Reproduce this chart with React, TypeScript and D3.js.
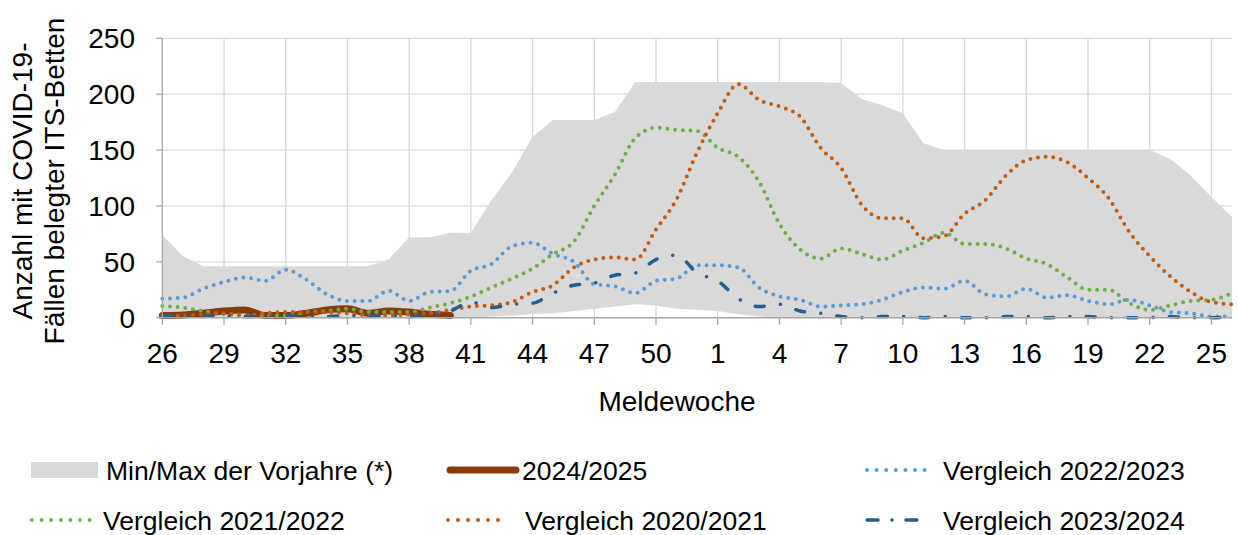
import React from 'react';
import * as d3 from 'd3';

// Meldewochen (KW 26 .. KW 26 of following year)
const weeks: number[] = [
  26, 27, 28, 29, 30, 31, 32, 33, 34, 35, 36, 37, 38, 39, 40, 41, 42, 43, 44, 45, 46, 47, 48, 49, 50, 51, 52,
  1, 2, 3, 4, 5, 6, 7, 8, 9, 10, 11, 12, 13, 14, 15, 16, 17, 18, 19, 20, 21, 22, 23, 24, 25, 26,
];
const yTicks: number[] = [0, 50, 100, 150, 200, 250];

// Min/Max der Vorjahre
const maxPrev: number[] = [
  74, 55, 46, 46, 46, 46, 46, 46, 46, 46, 46, 52, 72, 72, 76, 76, 105, 130, 162, 177, 177, 177, 184, 211, 211, 211, 211,
  211, 211, 211, 211, 211, 211, 210, 196, 190, 183, 156, 150, 150, 150, 150, 150, 150, 150, 150, 150, 150, 150, 142, 127, 108, 90,
];
const minPrev: number[] = [
  0, 0, 0, 0, 0, 0, 0, 0, 0, 0, 0, 0, 0, 0, 0, 0, 1, 2, 3, 4, 6, 8, 10, 12, 11, 8, 7,
  6, 3, 1, 0, 0, 0, 0, 0, 0, 0, 0, 0, 0, 0, 0, 0, 0, 0, 0, 0, 0, 0, 0, 0, 0, 0,
];
// 2024/2025 (bis KW 40)
const s2024: number[] = [2, 2.5, 4, 6, 7, 2, 2, 4, 7, 8, 4, 6, 5, 3, 2];
// Vergleich 2022/2023
const s2022: number[] = [
  17, 18, 26, 32, 36, 33, 43, 34, 21, 15, 15, 24, 15, 23, 24, 42, 48, 64, 67, 57, 50, 30, 28, 22, 33, 35, 47,
  47, 45, 27, 19, 16, 10, 11, 12, 16, 23, 27, 26, 33, 21, 19, 26, 18, 20, 15, 12, 16, 11, 5, 4, 1, 1,
];
// Vergleich 2021/2022
const s2021: number[] = [
  10.5, 9, 6, 3, 2, 2, 2, 5, 6, 8, 5, 5, 5, 9, 13, 19, 27, 35, 44, 57, 68, 100, 128, 161, 170, 168, 167,
  152, 144, 122, 84, 61, 53, 62, 57, 52, 60, 67, 76, 66, 66, 62, 53, 48, 36, 25, 25, 13, 7, 11, 15, 16, 22,
];
// Vergleich 2020/2021
const s2020: number[] = [
  2, 2, 3, 4, 2, 4, 5, 5, 5, 4, 2, 2, 3, 4, 7, 10, 11, 14, 23, 29, 45, 52, 54, 52, 79, 106, 148,
  183, 209, 195, 189, 180, 152, 134, 101, 89, 89, 71, 73, 93, 105, 127, 141, 144, 139, 125, 107, 77, 55, 37, 23, 14, 12,
];
// Vergleich 2023/2024
const s2023: number[] = [
  2, 2, 1, 2, 1, 1, 2, 1, 1, 2, 1, 2, 1, 3, 6, 14, 9, 12, 13, 22, 29, 31, 38, 40, 52, 56, 40,
  33, 17, 10, 12, 6, 4, 1, 0, 1, 1, 0, 1, 0, 0, 1, 1, 0, 1, 1, 0, 0, 0, 1, 0, 0, 1,
];

const C_AREA = '#D9D9D9';
const C_2024 = '#843C0C';
const C_2022 = '#5B9BD5';
const C_2021 = '#70AD47';
const C_2020 = '#C55A11';
const C_2023 = '#255E91';
const FONT = "'Liberation Sans', Arial, Helvetica, sans-serif";

export default function App() {
  const W = 1238;
  const H = 535;
  const x = d3.scaleLinear().domain([0, weeks.length - 1]).range([162.3, 1232]);
  const y = d3.scaleLinear().domain([0, 250]).range([317.7, 38.3]);
  const idx = weeks.map((_, i) => i);
  const tickIdx = idx.filter((i) => i % 3 === 0 && i < weeks.length - 1);

  const area = d3
    .area<number>()
    .x((i) => x(i))
    .y0((i) => y(minPrev[i]))
    .y1((i) => y(maxPrev[i]));

  const mkLine = (vals: number[]) =>
    d3
      .line<number>()
      .x((_, i) => x(i))
      .y((v) => y(v))
      .curve(d3.curveMonotoneX)(vals) || '';

  const dotted = { strokeWidth: 4, strokeDasharray: '0 7.7', strokeLinecap: 'round' as const, fill: 'none' };
  const dashDot = { strokeWidth: 3.5, strokeDasharray: '9 16.3 0.01 16.3', strokeLinecap: 'round' as const, fill: 'none' };

  const x0 = x.range()[0];
  const x1 = x.range()[1];
  const yb = y(0);
  const yt = y(250);

  const legendFs = 26.5;
  const row1 = 470;
  const row2 = 520;
  const tb = (cy: number) => cy + legendFs * 0.36;

  return (
    <svg
      width={W}
      height={H}
      viewBox={`0 0 ${W} ${H}`}
      style={{ position: 'absolute', left: 0, top: 0, background: '#fff' }}
      fontFamily={FONT}
    >
      {/* grid */}
      {yTicks.filter((t) => t > 0).map((t) => (
        <line key={'gy' + t} x1={x0} x2={x1} y1={y(t)} y2={y(t)} stroke="#D9D9D9" strokeWidth={1.3} />
      ))}
      {tickIdx.filter((i) => i > 0).map((i) => (
        <line key={'gx' + i} x1={x(i)} x2={x(i)} y1={yt} y2={yb} stroke="#D9D9D9" strokeWidth={1.3} />
      ))}

      {/* area */}
      <path d={area(idx) || ''} fill={C_AREA} stroke="none" />

      {/* series */}
      <path d={mkLine(s2024)} stroke={C_2024} strokeWidth={7} fill="none" strokeLinecap="round" strokeLinejoin="round" />
      <path d={mkLine(s2022)} stroke={C_2022} {...dotted} />
      <path d={mkLine(s2021)} stroke={C_2021} {...dotted} />
      <path d={mkLine(s2020)} stroke={C_2020} {...dotted} />
      <path d={mkLine(s2023)} stroke={C_2023} {...dashDot} />

      {/* axes */}
      <line x1={x0} x2={x0} y1={yt} y2={yb} stroke="#A6A6A6" strokeWidth={1.3} />
      <line x1={x0} x2={x1} y1={yb} y2={yb} stroke="#A6A6A6" strokeWidth={1.5} />
      {yTicks.map((t) => (
        <line key={'ty' + t} x1={x0 - 6} x2={x0} y1={y(t)} y2={y(t)} stroke="#A6A6A6" strokeWidth={1.3} />
      ))}
      {tickIdx.map((i) => (
        <line key={'tx' + i} x1={x(i)} x2={x(i)} y1={yb} y2={yb + 7} stroke="#A6A6A6" strokeWidth={1.3} />
      ))}

      {/* tick labels */}
      {yTicks.map((t) => (
        <text key={'ly' + t} x={135} y={y(t) + 10} textAnchor="end" fontSize={28} fill="#000">
          {t}
        </text>
      ))}
      {tickIdx.map((i) => (
        <text key={'lx' + i} x={x(i)} y={363.3} textAnchor="middle" fontSize={28} fill="#000">
          {weeks[i]}
        </text>
      ))}

      {/* axis titles */}
      <text x={677} y={411} textAnchor="middle" fontSize={28} fill="#000">
        Meldewoche
      </text>
      <text transform="translate(32,181) rotate(-90)" textAnchor="middle" fontSize={28} fill="#000">
        Anzahl mit COVID-19-
      </text>
      <text transform="translate(64,181) rotate(-90)" textAnchor="middle" fontSize={28} fill="#000">
        Fällen belegter ITS-Betten
      </text>

      {/* legend */}
      <rect x={31} y={row1 - 8} width={67} height={16} fill={C_AREA} />
      <text x={106} y={tb(row1)} fontSize={legendFs}>Min/Max der Vorjahre (*)</text>

      <line x1={450} x2={516} y1={row1} y2={row1} stroke={C_2024} strokeWidth={7} strokeLinecap="round" />
      <text x={522} y={tb(row1)} fontSize={legendFs}>2024/2025</text>

      <line x1={867} x2={925} y1={row1} y2={row1} stroke={C_2022} strokeWidth={4} strokeDasharray="0 9.6" strokeLinecap="round" />
      <text x={943} y={tb(row1)} fontSize={legendFs}>Vergleich 2022/2023</text>

      <line x1={32} x2={99} y1={row2} y2={row2} stroke={C_2021} strokeWidth={4} strokeDasharray="0 9.6" strokeLinecap="round" />
      <text x={103} y={tb(row2)} fontSize={legendFs}>Vergleich 2021/2022</text>

      <line x1={448} x2={508} y1={row2} y2={row2} stroke={C_2020} strokeWidth={4} strokeDasharray="0 10" strokeLinecap="round" />
      <text x={525} y={tb(row2)} fontSize={legendFs}>Vergleich 2020/2021</text>

      <line x1={867} x2={925} y1={row2} y2={row2} stroke={C_2023} strokeWidth={3.5} strokeDasharray="11 14 0.01 14" strokeLinecap="round" />
      <text x={943} y={tb(row2)} fontSize={legendFs}>Vergleich 2023/2024</text>
    </svg>
  );
}
